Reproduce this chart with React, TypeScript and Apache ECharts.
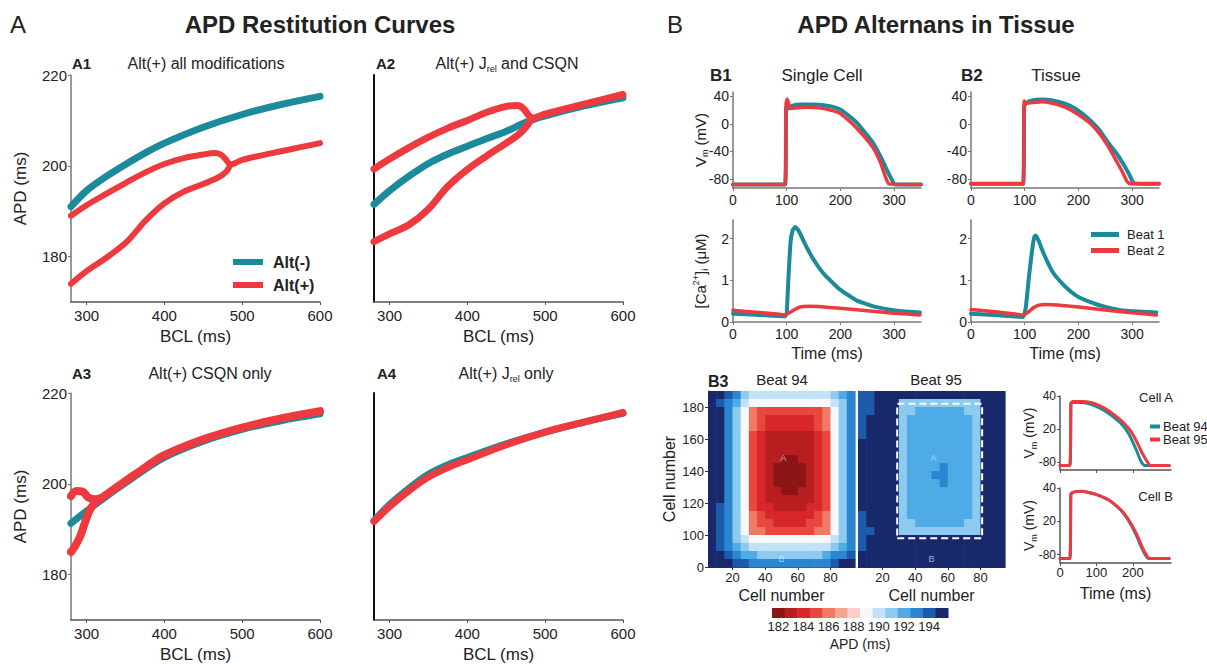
import React, { useEffect, useRef } from "react";
import * as echarts from "echarts";

// ---------------- data ----------------
const bclTicks = [300, 400, 500, 600];
const apdTicks = [180, 200, 220];

const a1AltMinus = [[280,191.0],[300,194.5],[325,197.6],[350,200.3],[375,202.8],[400,205.0],[450,208.5],[500,211.3],[550,213.5],[600,215.3]];
const a1AltPlusUpper = [[280,189.0],[300,191.3],[325,193.8],[350,196.2],[375,198.5],[400,200.4],[425,201.7],[450,202.5],[465,202.8],[473,202.4],[479,201.4],[485,200.3],[500,201.3],[525,202.3],[550,203.2],[575,204.1],[600,205.0]];
const a1AltPlusLower = [[280,174.0],[300,176.8],[325,179.7],[350,183.0],[365,185.8],[375,187.8],[400,191.7],[425,194.3],[450,196.0],[470,197.5],[480,198.8],[485,200.3]];

const a2AltMinus = [[280,191.5],[300,194.5],[325,197.7],[350,200.5],[375,202.6],[400,204.3],[425,206.0],[450,207.6],[475,209.6],[500,211.0],[550,213.2],[600,215.0]];
const a2AltPlusUpper = [[280,199.3],[300,201.5],[325,204.0],[350,206.3],[375,208.3],[400,210.0],[425,211.8],[450,213.1],[465,213.3],[472,212.6],[478,211.3],[483,210.5],[500,211.4],[550,213.6],[600,215.7]];
const a2AltPlusLower = [[280,183.3],[300,185.0],[325,187.0],[350,190.5],[375,195.5],[400,199.2],[425,202.2],[450,205.0],[465,206.8],[475,208.5],[483,210.5]];

const a3AltMinus = [[280,191.3],[300,194.0],[318,196.3],[350,200.2],[400,205.8],[450,209.4],[500,212.0],[550,213.9],[600,215.4]];
const a3AltPlusUpper = [[280,197.3],[287,198.4],[295,198.3],[302,197.0],[310,196.6],[318,196.8],[325,197.6],[350,200.6],[375,203.6],[400,206.3],[450,209.8],[500,212.4],[550,214.4],[600,216.0]];
const a3AltPlusLower = [[280,185.0],[285,186.2],[292,188.5],[298,191.5],[305,194.5],[312,196.0],[318,196.8]];

const a4AltMinus = [[280,191.9],[300,195.4],[325,199.0],[350,202.1],[375,204.2],[400,205.8],[450,208.8],[500,211.4],[550,213.6],[600,215.5]];
const a4AltPlus = [[280,191.7],[300,195.0],[325,198.5],[350,201.5],[375,203.6],[400,205.3],[450,208.6],[500,211.4],[550,213.6],[600,215.7]];

const timeTicks = [0, 100, 200, 300];
const vmTicks = [-80, -40, 0, 40];
const caTicks = [0, 1, 2];

const b1VmBeat1 = [[0,-88],[97,-88],[99,25],[103,22],[110,26],[125,28],[150,28],[175,26],[199,21],[215,12],[230,2],[245,-12],[261,-28],[275,-48],[286,-66],[295,-80],[301,-88],[350,-88]];
const b1VmBeat2 = [[0,-88],[97,-88],[99,30],[101,36],[104,28],[108,22],[115,23],[137,24],[160,23],[185,19],[200,15],[215,5],[230,-6],[245,-19],[261,-35],[275,-57],[283,-75],[290,-87],[350,-88]];
const b1CaBeat1 = [[0,0.2],[50,0.17],[97,0.14],[100,0.22],[103,1.0],[107,1.9],[111,2.2],[116,2.28],[122,2.2],[137,1.8],[150,1.5],[168,1.17],[185,0.95],[200,0.77],[230,0.52],[260,0.38],[290,0.3],[320,0.25],[348,0.23]];
const b1CaBeat2 = [[0,0.28],[50,0.23],[97,0.17],[105,0.22],[115,0.3],[125,0.36],[140,0.38],[160,0.37],[200,0.33],[250,0.27],[300,0.21],[348,0.17]];

const b2VmBeat1 = [[0,-87],[97,-87],[99,25],[103,30],[115,34],[130,35],[150,34],[175,29],[192,23],[210,13],[223,4],[240,-10],[254,-26],[270,-42],[285,-60],[295,-74],[303,-86],[350,-87]];
const b2VmBeat2 = [[0,-87],[97,-87],[99,33],[102,30],[108,30],[130,32],[150,30],[175,24],[192,17],[210,8],[223,0],[240,-15],[254,-31],[268,-50],[280,-67],[290,-83],[296,-87],[350,-87]];
const b2CaBeat1 = [[0,0.2],[50,0.16],[97,0.12],[102,0.35],[108,1.1],[114,1.75],[118,2.05],[121,2.08],[126,1.95],[135,1.65],[152,1.2],[170,0.92],[185,0.74],[200,0.6],[214,0.52],[245,0.38],[276,0.29],[310,0.25],[345,0.23]];
const b2CaBeat2 = [[0,0.3],[50,0.24],[97,0.17],[105,0.22],[115,0.33],[125,0.4],[140,0.42],[160,0.41],[200,0.36],[250,0.29],[300,0.22],[345,0.17]];

const cellXTicks = [20, 40, 60, 80];
const cellYTicks = [80, 100, 120, 140, 160, 180];
const cellYLabels = ["0", "100", "120", "140", "160", "180"];
const apdScaleTicks = [182, 184, 186, 188, 190, 192, 194];
const apdLevels = [182, 183, 184, 185, 186, 187, 188, 189, 190, 191, 192, 193, 194, 195];
const apdPalette = ["#8c1515","#b81d1f","#d8272a","#e8473e","#f07a66","#f6a493","#fad0c6","#f7f8fb","#c4e2f6","#8ccaf0","#4eabe6","#2a86d0","#1c5aab","#17296b"];

// APD maps: one character per 5x5 block of cells (hex level above 182 ms), top row first
const beat94Rows = [
  "ddcb988888888889ab",
  "dcba8777777777789b",
  "ddb97433333333479b",
  "ddb97432222223479b",
  "ddb97432222223479b",
  "ddb97321111112379b",
  "ddb97321111112379b",
  "ddb97321111112379b",
  "ddb97321100112379b",
  "ddb97321000012379b",
  "ddb97321000012379b",
  "ddb97321000012379b",
  "ddb97321100112379b",
  "ddb97321111112379b",
  "dcb97322111122379b",
  "dcb97432222223479b",
  "dcb97433222233479b",
  "dcb97443333334479b",
  "dcb98777777777789b",
  "dcba988888888889ab",
  "ddcbaa99999999abbc",
  "dddccbbbbbbbbbbcdd",
];
const beat95Rows = [
  "ccdddddddddddddddd",
  "ccddd9999999999ddd",
  "ccddd99aaaaaa99ddd",
  "cdddd9aaaaaaaa9ddd",
  "cdddd9aaaaaaaa9ddd",
  "cdddd9aaaaaaaa9ddd",
  "ddddd9aaaaaaaa9ddd",
  "ddddd9aaaaaaaa9ddd",
  "ddddd9aaaaaaaa9ddd",
  "ddddd9aaaabaaa9ddd",
  "ddddd9aaabbaaa9ddd",
  "ddddd9aaaabaaa9ddd",
  "ddddd9aaaaaaaa9ddd",
  "ddddd9aaaaaaaa9ddd",
  "ddddd9aaaaaaaa9ddd",
  "cdddd9aaaaaaaa9ddd",
  "cdddd99aaaaaa99ddd",
  "ccddd9999999999ddd",
  "cddddddddddddddddd",
  "cddddddddddddddddd",
  "dddddddddddddddddd",
  "dddddddddddddddddd",
];
const mapFirstCell = 5;
const mapTopCell = 190;
const mapBlock = 5;
const stimRegion = [[29,98],[81,98],[81,182],[29,182],[29,98]];
const probeCells = [[51,148,"A"],[50,85,"B"]];

const cellTimeTicks = [0, 100, 200];
const cellVmTicks = [-80, -20, 40];
const cellVmLabels = ["-80", "20", "40"];
const cellABeat94 = [[0,-87],[27,-87],[30,26],[35,28],[60,28],[85,25],[110,18],[130,10],[150,0],[170,-12],[188,-28],[202,-47],[213,-64],[223,-80],[232,-87],[300,-87]];
const cellABeat95 = [[0,-87],[27,-87],[30,27],[35,30],[60,30],[85,28],[110,22],[130,15],[150,5],[172,-7],[192,-22],[210,-42],[225,-63],[240,-80],[250,-87],[300,-87]];
const cellBBeat94 = [[0,-87],[27,-87],[30,30],[40,33],[60,34],[85,31],[110,26],[135,18],[155,8],[175,-6],[195,-26],[211,-47],[223,-66],[235,-81],[243,-87],[300,-87]];
const cellBBeat95 = [[0,-87],[27,-87],[30,30],[40,33],[60,34],[85,31],[110,26],[135,18],[155,8],[175,-5],[195,-24],[212,-45],[225,-65],[237,-80],[245,-87],[300,-87]];

// ---------------- styling ----------------
const TEAL = "#1b8a9a";
const RED = "#ee3a3f";
const FONT = "Liberation Sans, Arial, Helvetica, sans-serif";
const INK = "#222";

function decodeMap(rows: string[]) {
  const out: number[][] = [];
  rows.forEach((row, r) => {
    for (let c = 0; c < row.length; c++) {
      const lvl = parseInt(row[c], 16);
      out.push([mapFirstCell + mapBlock * c + mapBlock / 2, mapTopCell - mapBlock * r - mapBlock / 2, 182 + lvl]);
    }
  });
  return out;
}

function apdColor(v: number) {
  const i = Math.max(0, Math.min(apdPalette.length - 1, Math.round(v) - 182));
  return apdPalette[i];
}

function lineSeries(name: string, data: number[][], color: string, width: number, idx: number, smooth: number | boolean = 0.35) {
  return {
    type: "line", name, data, xAxisIndex: idx, yAxisIndex: idx,
    symbol: "none", showSymbol: false, smooth,
    lineStyle: { color, width, cap: "round", join: "round" },
    itemStyle: { color }, silent: true, animation: false,
  };
}

const grids = [
  { left: 71, top: 75, width: 249, height: 227 },
  { left: 374, top: 75, width: 249, height: 227 },
  { left: 71, top: 393, width: 249, height: 227 },
  { left: 374, top: 393, width: 249, height: 227 },
  { left: 733, top: 92, width: 188, height: 96 },
  { left: 733, top: 220, width: 188, height: 102 },
  { left: 971, top: 92, width: 188, height: 96 },
  { left: 971, top: 220, width: 188, height: 102 },
  { left: 708, top: 391, width: 147, height: 176 },
  { left: 858, top: 391, width: 147, height: 176 },
  { left: 772, top: 608, width: 176, height: 10 },
  { left: 1060, top: 396, width: 111, height: 74 },
  { left: 1060, top: 488, width: 111, height: 75 },
].map((g) => ({ ...g, containLabel: false, outerBoundsMode: "none" }));

function xAxisCfg(gi: number, min: number, max: number, ticks: number[] | null, opt: any = {}) {
  const lineColor = opt.lineColor || "#555";
  return {
    gridIndex: gi, type: "value", min, max,
    axisLine: { show: opt.axisLine !== false, onZero: false, lineStyle: { color: lineColor, width: opt.lineWidth || 1.5 } },
    axisTick: ticks ? { show: true, customValues: ticks, length: 3, inside: false, lineStyle: { color: lineColor } } : { show: false },
    axisLabel: ticks && opt.labels !== false ? { show: true, customValues: ticks, fontSize: opt.fontSize || 14, color: INK, margin: opt.margin ?? 5, fontFamily: FONT, formatter: opt.formatter } : { show: false },
    splitLine: { show: false },
    name: opt.name || "", nameLocation: "middle", nameGap: opt.nameGap || 25, nameMoveOverlap: false,
    nameTextStyle: { fontSize: opt.nameSize || 16, color: INK, fontFamily: FONT },
  };
}
function yAxisCfg(gi: number, min: number, max: number, ticks: number[] | null, opt: any = {}) {
  const lineColor = opt.lineColor || "#555";
  return {
    gridIndex: gi, type: "value", min, max,
    axisLine: { show: opt.axisLine !== false, onZero: false, lineStyle: { color: lineColor, width: opt.lineWidth || 1.5 } },
    axisTick: ticks && opt.ticks !== false ? { show: true, customValues: ticks, length: 3, inside: false, lineStyle: { color: lineColor } } : { show: false },
    axisLabel: ticks && opt.labels !== false ? { show: true, customValues: ticks, fontSize: opt.fontSize || 14, color: INK, margin: opt.margin ?? 4, fontFamily: FONT, formatter: opt.formatter } : { show: false },
    splitLine: { show: false },
    name: opt.name || "", nameLocation: "middle", nameRotate: 90, nameGap: opt.nameGap || 30, nameMoveOverlap: false,
    nameTextStyle: { fontSize: opt.nameSize || 16, color: INK, fontFamily: FONT, lineHeight: 18, rich: opt.rich },
  };
}

const subRich = {
  sub: { fontSize: 9, verticalAlign: "bottom", fontFamily: FONT, color: INK },
  sup: { fontSize: 9, verticalAlign: "top", fontFamily: FONT, color: INK },
};

function txt(text: string, x: number, y: number, size: number, weight = "normal", align = "left", rich?: any) {
  return {
    type: "text", x, y, silent: true,
    style: {
      text, fontSize: size, fontWeight: weight, fontFamily: FONT, fill: INK,
      textAlign: align, align, textVerticalAlign: "middle", verticalAlign: "middle",
      lineHeight: size + 4, rich,
    },
  };
}

function buildOption() {
  const cellYFmt = (v: number) => cellYLabels[cellYTicks.indexOf(v)] ?? String(v);
  const cellVmFmt = (v: number) => cellVmLabels[cellVmTicks.indexOf(v)] ?? String(v);
  const heatRender = (_p: any, api: any) => {
    const x = api.value(0), y = api.value(1), v = api.value(2);
    const a = api.coord([x - mapBlock / 2, y + mapBlock / 2]);
    const b = api.coord([x + mapBlock / 2, y - mapBlock / 2]);
    return { type: "rect", shape: { x: a[0], y: a[1], width: b[0] - a[0] + 0.6, height: b[1] - a[1] + 0.6 }, style: { fill: apdColor(v) } };
  };
  const barRender = (_p: any, api: any) => {
    const v = api.value(0);
    const a = api.coord([v - 0.5, 1]);
    const b = api.coord([v + 0.5, 0]);
    return { type: "rect", shape: { x: a[0], y: a[1], width: b[0] - a[0] + 0.5, height: b[1] - a[1] }, style: { fill: apdColor(v) } };
  };

  const bcl = { name: "BCL (ms)", nameGap: 26, fontSize: 15, nameSize: 17, margin: 6 };
  const xAxis = [
    xAxisCfg(0, 280, 600, bclTicks, bcl),
    xAxisCfg(1, 280, 600, bclTicks, bcl),
    xAxisCfg(2, 280, 600, bclTicks, bcl),
    xAxisCfg(3, 280, 600, bclTicks, bcl),
    xAxisCfg(4, 0, 350, timeTicks, { lineColor: "#777" }),
    xAxisCfg(5, 0, 350, timeTicks, { lineColor: "#777", name: "Time (ms)", nameGap: 23 }),
    xAxisCfg(6, 0, 350, timeTicks, { lineColor: "#777" }),
    xAxisCfg(7, 0, 350, timeTicks, { lineColor: "#777", name: "Time (ms)", nameGap: 23 }),
    xAxisCfg(8, 5, 95, cellXTicks, { lineColor: "#333", lineWidth: 1, name: "Cell number", nameGap: 20, margin: 4, fontSize: 13 }),
    xAxisCfg(9, 5, 95, cellXTicks, { lineColor: "#333", lineWidth: 1, name: "Cell number", nameGap: 20, margin: 4, fontSize: 13 }),
    { ...xAxisCfg(10, 181.5, 195.5, apdScaleTicks, { name: "APD (ms)", nameGap: 19, margin: 2, fontSize: 13, nameSize: 14, axisLine: false }), axisTick: { show: false } },
    xAxisCfg(11, 0, 305, cellTimeTicks, { lineColor: "#555", labels: false }),
    xAxisCfg(12, 0, 305, cellTimeTicks, { lineColor: "#555", name: "Time (ms)", nameGap: 22, fontSize: 13, margin: 3 }),
  ];
  const yAxis = [
    yAxisCfg(0, 170, 220, apdTicks, { name: "APD (ms)", nameGap: 42, fontSize: 15, nameSize: 17, lineColor: "#777" }),
    yAxisCfg(1, 170, 220, apdTicks, { labels: false, ticks: false, lineColor: "#111", lineWidth: 2 }),
    yAxisCfg(2, 170, 220, apdTicks, { name: "APD (ms)", nameGap: 42, fontSize: 15, nameSize: 17, lineColor: "#777" }),
    yAxisCfg(3, 170, 220, apdTicks, { labels: false, ticks: false, lineColor: "#111", lineWidth: 2 }),
    yAxisCfg(4, -93, 46, vmTicks, { lineColor: "#777", name: "V{sub|m} (mV)", nameGap: 24, nameSize: 15, rich: subRich }),
    yAxisCfg(5, 0, 2.45, caTicks, { lineColor: "#777", name: "[Ca{sup|2+}]{sub|i} (μM)", nameGap: 24, nameSize: 15, rich: subRich }),
    yAxisCfg(6, -93, 46, vmTicks, { lineColor: "#777" }),
    yAxisCfg(7, 0, 2.45, caTicks, { lineColor: "#777" }),
    yAxisCfg(8, 80, 190, cellYTicks, { lineColor: "#333", lineWidth: 1, formatter: cellYFmt, fontSize: 13, name: "Cell number", nameGap: 30, nameSize: 16 }),
    yAxisCfg(9, 80, 190, cellYTicks, { lineColor: "#333", lineWidth: 1, labels: false, ticks: false }),
    { ...yAxisCfg(10, 0, 1, null, { axisLine: false }), show: false },
    yAxisCfg(11, -95, 40, cellVmTicks, { lineColor: "#555", formatter: cellVmFmt, fontSize: 12, name: "V{sub|m} (mV)", nameGap: 22, nameSize: 14, rich: subRich }),
    yAxisCfg(12, -95, 40, cellVmTicks, { lineColor: "#555", formatter: cellVmFmt, fontSize: 12, name: "V{sub|m} (mV)", nameGap: 22, nameSize: 14, rich: subRich }),
  ];

  const tr = 0.12;
  const series: any[] = [
    lineSeries("Alt(-)", a1AltMinus, TEAL, 7, 0),
    lineSeries("Alt(+)", a1AltPlusUpper, RED, 6, 0),
    lineSeries("Alt(+)", a1AltPlusLower, RED, 6, 0),
    lineSeries("Alt(-)", a2AltMinus, TEAL, 7, 1),
    lineSeries("Alt(+)", a2AltPlusUpper, RED, 7, 1),
    lineSeries("Alt(+)", a2AltPlusLower, RED, 7, 1),
    lineSeries("Alt(-)", a3AltMinus, TEAL, 7, 2),
    lineSeries("Alt(+)", a3AltPlusUpper, RED, 8, 2),
    lineSeries("Alt(+)", a3AltPlusLower, RED, 8, 2),
    lineSeries("Alt(-)", a4AltMinus, TEAL, 7, 3),
    lineSeries("Alt(+)", a4AltPlus, RED, 7, 3),
    lineSeries("Beat 1", b1VmBeat1, TEAL, 4, 4, tr),
    lineSeries("Beat 2", b1VmBeat2, RED, 3.5, 4, tr),
    lineSeries("Beat 1", b1CaBeat1, TEAL, 4, 5, tr),
    lineSeries("Beat 2", b1CaBeat2, RED, 3.5, 5, tr),
    lineSeries("Beat 1", b2VmBeat1, TEAL, 4, 6, tr),
    lineSeries("Beat 2", b2VmBeat2, RED, 3.5, 6, tr),
    lineSeries("Beat 1", b2CaBeat1, TEAL, 4, 7, tr),
    lineSeries("Beat 2", b2CaBeat2, RED, 3.5, 7, tr),
    { type: "custom", name: "APD map beat 94", xAxisIndex: 8, yAxisIndex: 8, data: decodeMap(beat94Rows), renderItem: heatRender, silent: true, z: 1 },
    { type: "custom", name: "APD map beat 95", xAxisIndex: 9, yAxisIndex: 9, data: decodeMap(beat95Rows), renderItem: heatRender, silent: true, z: 1 },
    { type: "line", name: "stimulus region", xAxisIndex: 9, yAxisIndex: 9, data: stimRegion, symbol: "none", silent: true, z: 5,
      lineStyle: { color: "#ffffff", width: 2, type: [7, 4] } },
    ...[8, 9].map((i) => ({
      type: "scatter", name: "probe cells " + i, xAxisIndex: i, yAxisIndex: i, data: probeCells, symbolSize: 0, silent: true, z: 6,
      label: { show: true, position: "inside", formatter: (p: any) => p.value[2], color: "rgba(235,235,245,0.85)", fontSize: 9, fontFamily: FONT },
    })),
    { type: "custom", name: "APD scale", xAxisIndex: 10, yAxisIndex: 10, data: apdLevels.map((v) => [v]), renderItem: barRender, silent: true },
    lineSeries("Beat 94", cellABeat94, TEAL, 3, 11, tr),
    lineSeries("Beat 95", cellABeat95, RED, 3, 11, tr),
    lineSeries("Beat 94", cellBBeat94, TEAL, 3, 12, tr),
    lineSeries("Beat 95", cellBBeat95, RED, 3, 12, tr),
  ];

  const graphic = [
    txt("A", 10, 24, 24),
    txt("APD Restitution Curves", 320, 24, 24, "bold", "center"),
    txt("B", 667, 24, 24),
    txt("APD Alternans in Tissue", 936, 24, 24, "bold", "center"),
    txt("A1", 72, 63, 15, "bold"),
    txt("Alt(+) all modifications", 206, 63, 16, "normal", "center"),
    txt("A2", 376, 63, 15, "bold"),
    txt("Alt(+) J{sub|rel} and CSQN", 507, 63, 16, "normal", "center", subRich),
    txt("A3", 72, 373, 15, "bold"),
    txt("Alt(+) CSQN only", 210, 373, 16, "normal", "center"),
    txt("A4", 377, 373, 15, "bold"),
    txt("Alt(+) J{sub|rel} only", 506, 373, 16, "normal", "center", subRich),
    txt("B1", 710, 75, 17, "bold"),
    txt("Single Cell", 822, 75, 17, "normal", "center"),
    txt("B2", 961, 75, 17, "bold"),
    txt("Tissue", 1056, 75, 17, "normal", "center"),
    txt("B3", 708, 381, 16, "bold"),
    txt("Beat 94", 782, 379, 15, "normal", "center"),
    txt("Beat 95", 936, 379, 15, "normal", "center"),
    txt("Cell A", 1173, 397, 13, "normal", "right"),
    txt("Cell B", 1173, 496, 13, "normal", "right"),
  ];

  return {
    animation: false,
    backgroundColor: "#ffffff",
    textStyle: { fontFamily: FONT },
    grid: grids,
    xAxis,
    yAxis,
    legend: [
      { data: ["Alt(-)", "Alt(+)"], left: 228, top: 249, orient: "vertical", icon: "rect", itemWidth: 30, itemHeight: 6, itemGap: 7,
        selectedMode: false, textStyle: { fontSize: 16, fontWeight: "bold", color: INK, fontFamily: FONT, padding: [0, 0, 0, 5] } },
      { data: ["Beat 1", "Beat 2"], left: 1086, top: 223, orient: "vertical", icon: "rect", itemWidth: 28, itemHeight: 5, itemGap: 3,
        selectedMode: false, textStyle: { fontSize: 13, color: INK, fontFamily: FONT, padding: [0, 0, 0, 3] } },
      { data: ["Beat 94", "Beat 95"], left: 1145, top: 415, orient: "vertical", icon: "rect", itemWidth: 10, itemHeight: 4, itemGap: 0,
        selectedMode: false, textStyle: { fontSize: 13, lineHeight: 12, color: INK, fontFamily: FONT, padding: [0, 0, 0, -2] } },
    ],
    graphic,
    series,
  };
}

export default function App() {
  const ref = useRef<HTMLDivElement>(null);
  useEffect(() => {
    document.body.style.margin = "0";
    const chart = echarts.init(ref.current as HTMLDivElement, null, { renderer: "svg" });
    chart.setOption(buildOption() as any);
    return () => chart.dispose();
  }, []);
  return <div ref={ref} style={{ width: 1207, height: 664, background: "#fff" }} />;
}
